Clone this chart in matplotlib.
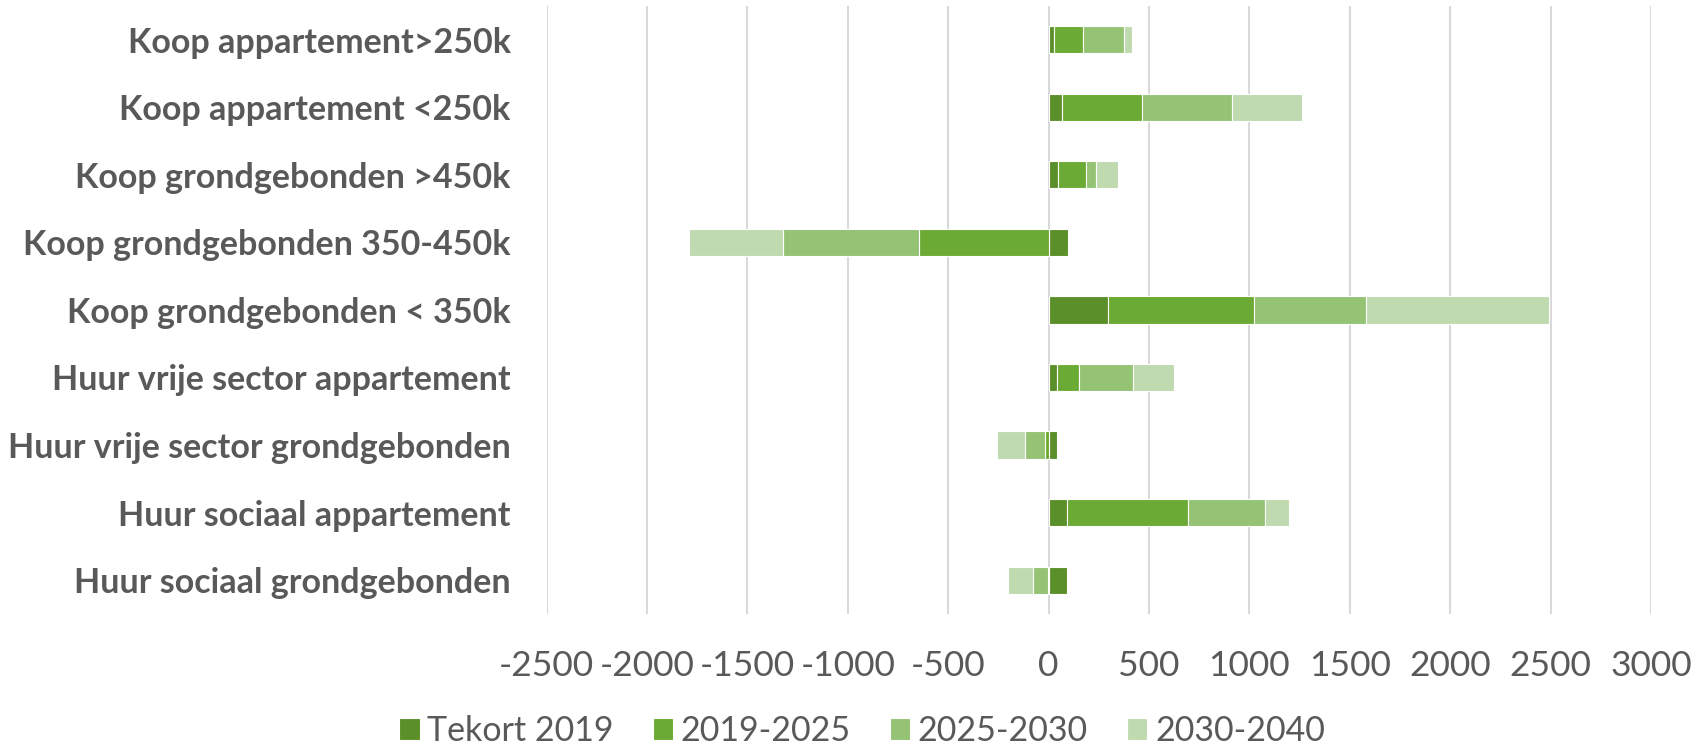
import matplotlib
matplotlib.use("Agg")
import matplotlib.pyplot as plt
import numpy as np

categories = [
    "Koop appartement>250k",
    "Koop appartement <250k",
    "Koop grondgebonden >450k",
    "Koop grondgebonden 350-450k",
    "Koop grondgebonden < 350k",
    "Huur vrije sector appartement",
    "Huur vrije sector grondgebonden",
    "Huur sociaal appartement",
    "Huur sociaal grondgebonden",
]
series_names = ["Tekort 2019", "2019-2025", "2025-2030", "2030-2040"]
tekort_2019 = [27, 67, 47, 96, 298, 44, 42, 93, 90]
p2019_2025 = [146, 400, 140, -644, 727, 107, -18, 601, -5]
p2025_2030 = [203, 446, 49, -680, 556, 267, -98, 385, -75]
p2030_2040 = [40, 347, 108, -467, 910, 205, -140, 120, -124]
colors = ["#5A8F29", "#6BAA34", "#94C374", "#C0DAB0"]
xticks = [-2500, -2000, -1500, -1000, -500, 0, 500, 1000, 1500, 2000, 2500, 3000]

W, H = 1705, 746
fig = plt.figure(figsize=(W / 100, H / 100), dpi=100)
ax = fig.add_axes([546.7 / W, (H - 613.75) / H, (1651 - 546.7) / W, (613.75 - 6.25) / H])

y = np.arange(len(categories))
pos = np.zeros(len(categories))
neg = np.zeros(len(categories))
for name, vals, c in zip(series_names, [tekort_2019, p2019_2025, p2025_2030, p2030_2040], colors):
    v = np.array(vals, dtype=float)
    left = np.where(v >= 0, pos, neg)
    ax.barh(y, v, left=left, height=0.4, color=c, edgecolor="white", linewidth=0.8, label=name, zorder=3)
    pos = pos + np.where(v >= 0, v, 0)
    neg = neg + np.where(v < 0, v, 0)

ax.set_xlim(-2500, 3000)
ax.set_ylim(len(categories) - 0.5, -0.5)
ax.set_xticks(xticks)
ax.set_xticklabels([str(t) for t in xticks], fontfamily="Lato", fontsize=25.5, color="#595959")
ax.set_yticks(y)
ax.set_yticklabels(categories, fontfamily="Lato", fontweight="bold", fontsize=24.5, color="#595959")
ax.tick_params(axis="x", length=0, pad=26)
ax.tick_params(axis="y", length=0, pad=26)
ax.grid(axis="x", color="#D9D9D9", linewidth=1.5, zorder=0)
ax.set_axisbelow(True)
for s in ax.spines.values():
    s.set_visible(False)

leg = fig.legend(loc="center", bbox_to_anchor=(862 / W, 1 - 731 / H), ncol=4, frameon=False,
                 prop={"family": "Lato", "size": 24.5}, handlelength=0.6, handleheight=0.62,
                 handletextpad=0.22, columnspacing=1.15, borderaxespad=0, borderpad=0)
for t in leg.get_texts():
    t.set_color("#595959")

fig.savefig("out.png", dpi=100, facecolor="white")
